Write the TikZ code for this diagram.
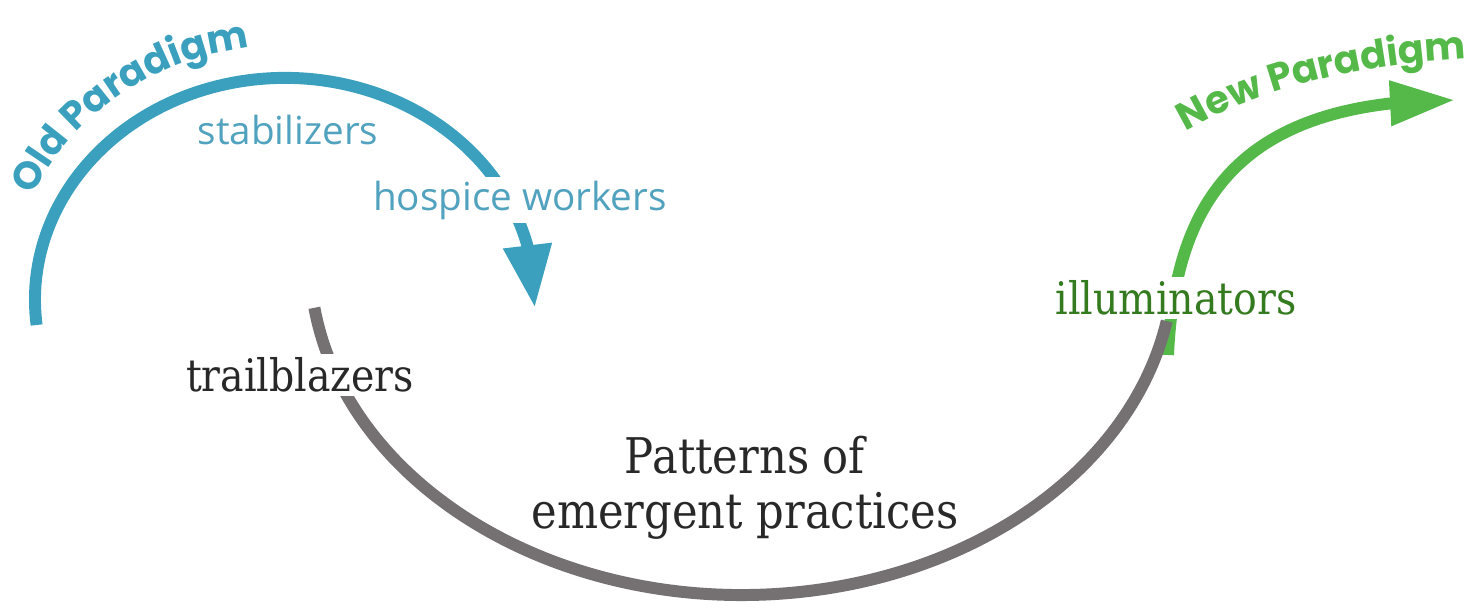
\documentclass[tikz,border=0pt]{standalone}
\usepackage{fontspec}
\usetikzlibrary{arrows.meta,bending,decorations.text}
\newfontfamily\lblsans{Open Sans}
\newfontfamily\lblslab{DejaVu Serif}[FakeStretch=0.88]
\newfontfamily\lblhand{Poppins}
\definecolor{bluepd}{RGB}{58,160,190}
\definecolor{bluetxt}{RGB}{80,162,190}
\definecolor{graypd}{RGB}{117,112,114}
\definecolor{greenpd}{RGB}{84,185,72}
\definecolor{greentxt}{RGB}{52,122,30}
\definecolor{darktxt}{RGB}{40,40,40}

\begin{document}
\begin{tikzpicture}[x=0.02cm, y=0.02cm,
    arcline/.style={line width=6.8pt},
    sanslbl/.style={font=\lblsans\fontsize{22}{26}\selectfont, text=bluetxt, inner sep=2pt},
    slablbl/.style={font=\lblslab\fontsize{25.5}{30}\selectfont, inner sep=2pt}]
    \useasboundingbox (0,0) rectangle (1483,615);

    % Bögen
    \coordinate (oldstart) at (36.6,290);
    \coordinate (midstart) at (314.4,307.2);
    \coordinate (newstart) at (1168,260);
    \coordinate (newtip) at (1455,515);
    \draw[arcline, bluepd, -{Triangle[width=0.92cm,length=1.25cm]}] (oldstart)
        arc[start angle=186.5, end angle=-2, x radius=250, y radius=222];
    \draw[arcline, greenpd, -{Triangle[width=0.85cm,length=1.3cm]}] (newstart)
        .. controls (1175,415) and (1240,515) .. (newtip);
    \draw[arcline, graypd] (midstart)
        arc[start angle=188.2, end angle=349.5, x radius=432, y radius=335];

    % Schrift am Bogen
    \coordinate (oldtxt) at (14,363);
    \coordinate (newtxt) at (1162,468);
    \path[decorate, decoration={text along path, text align=center, text color=bluepd,
        text={|\lblhand\bfseries\fontsize{22}{22}\selectfont|Old Paradigm}}]
        (oldtxt) arc[start angle=170, end angle=85, x radius=275, y radius=250];
    \path[decorate, decoration={text along path, text align=center, text color=greenpd,
        text={|\lblhand\bfseries\fontsize{22}{22}\selectfont|New Paradigm}}]
        (newtxt) .. controls (1238,522) and (1355,554) .. (1495,557);

    % Beschriftung
    \node[sanslbl] (stab) at (288,485) {stabilizers};
    \node[sanslbl, fill=white] (hosp) at (520,415) {hospice workers};
    \node[slablbl, fill=white, text=darktxt] (trail) at (300,240) {trailblazers};
    \node[slablbl, fill=white, text=greentxt] (illum) at (1176,317) {illuminators};
    \node[slablbl, text=darktxt, align=center, font=\lblslab\fontsize{28}{31.5}\selectfont] (emerg) at (745,127)
        {Patterns of\\emergent practices};
\end{tikzpicture}
\end{document}
